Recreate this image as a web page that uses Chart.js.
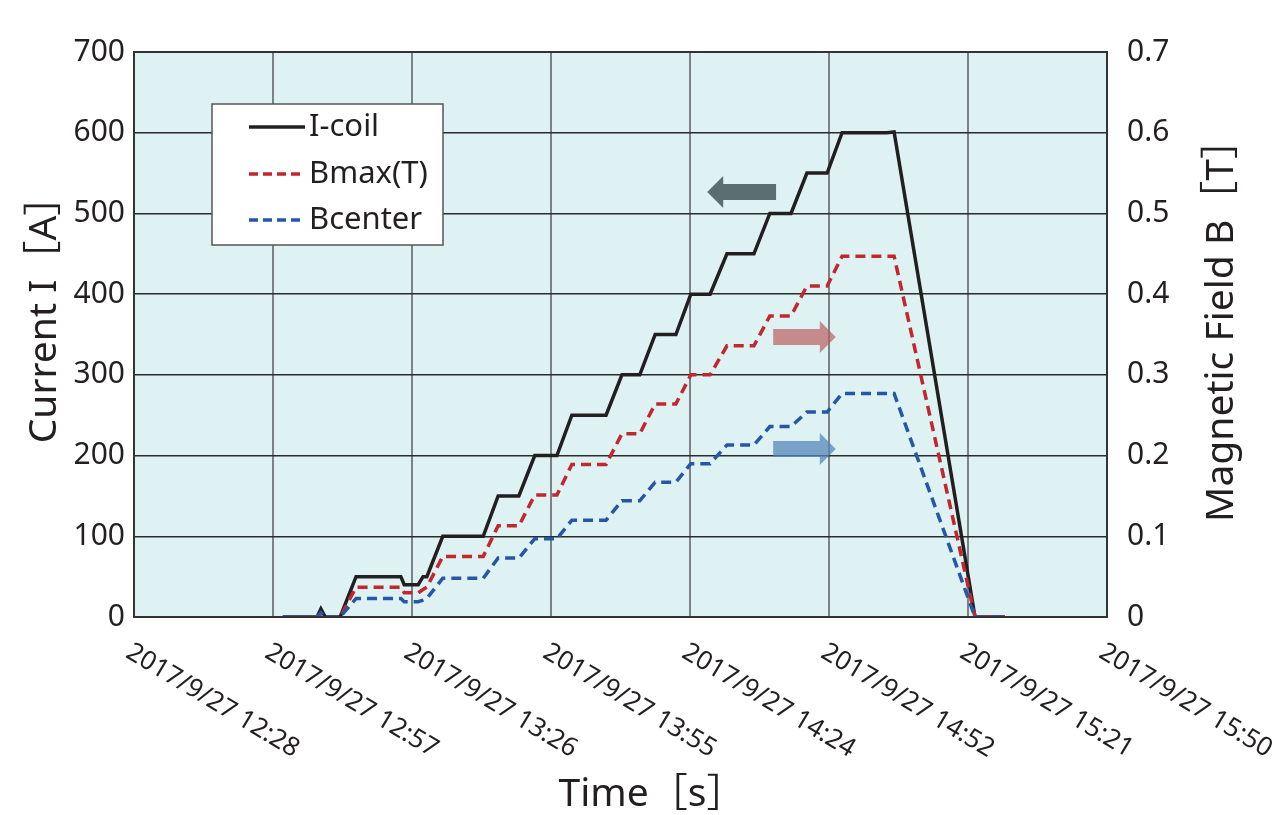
<!DOCTYPE html>
<html>
<head>
<meta charset="utf-8">
<script src="https://cdn.jsdelivr.net/npm/chart.js@4.4.1/dist/chart.umd.min.js"></script>
<style>
  html, body { margin: 0; padding: 0; background: #ffffff; }
  canvas { display: block; }
</style>
</head>
<body>
<canvas id="myChart" width="1278" height="815"></canvas>
<script>
// minutes after 2017/9/27 12:28
const timeMin = [30.9, 38.0, 38.8, 39.7, 42.8, 46.1, 55.4, 56.1, 59.0, 60.0, 60.8, 64.1,
  72.5, 75.6, 79.9, 83.2, 87.8, 90.9, 98.0, 101.3, 105.0, 108.2, 112.5, 115.6,
  119.6, 123.1, 128.7, 132.0, 136.4, 139.7, 143.9, 147.0, 156.3, 157.8, 174.6, 180.8];

const iCoil = [0, 0, 10, 0, 0, 50, 50, 40, 40, 50, 50, 100,
  100, 150, 150, 200, 200, 250, 250, 300, 300, 350, 350, 400,
  400, 450, 450, 500, 500, 550, 550, 600, 600, 601, 0, 0];

const bMax = [0, 0, 0.005, 0, 0, 0.037, 0.037, 0.030, 0.030, 0.034, 0.037, 0.075,
  0.075, 0.113, 0.113, 0.151, 0.151, 0.189, 0.189, 0.227, 0.227, 0.264, 0.264, 0.300,
  0.300, 0.336, 0.336, 0.373, 0.373, 0.410, 0.410, 0.447, 0.447, 0.447, 0, 0];

const bCenter = [0, 0, 0.005, 0, 0, 0.023, 0.023, 0.019, 0.019, 0.021, 0.023, 0.048,
  0.048, 0.073, 0.073, 0.097, 0.097, 0.120, 0.120, 0.144, 0.144, 0.167, 0.167, 0.190,
  0.190, 0.213, 0.213, 0.236, 0.236, 0.254, 0.254, 0.277, 0.277, 0.277, 0, 0];

const tickLabels = ["2017/9/27 12:28", "2017/9/27 12:57", "2017/9/27 13:26", "2017/9/27 13:55",
  "2017/9/27 14:24", "2017/9/27 14:52", "2017/9/27 15:21", "2017/9/27 15:50"];
const spanMin = 202; // 12:28 -> 15:50

// direction arrows: x from tail to tip (minutes), y on current axis
const arrows = [
  { from: 133.3, to: 119.0, y: 526.6, color: "rgba(78,96,97,0.9)" },
  { from: 132.7, to: 145.7, y: 346.9, color: "rgba(185,95,96,0.7)" },
  { from: 132.7, to: 145.7, y: 208.2, color: "rgba(86,135,186,0.75)" },
];

const FONT = '"Noto Sans", "Noto Sans CJK JP", sans-serif';
const TXT = "#231f20";

const pts = (vals) => timeMin.map((t, i) => ({ x: t, y: vals[i] }));

const data = {
  datasets: [
    {
      label: "I-coil",
      data: pts(iCoil),
      yAxisID: "y",
      borderColor: "#231f20",
      borderWidth: 3.5,
      order: 2,
    },
    {
      label: "Bmax(T)",
      data: pts(bMax),
      yAxisID: "y2",
      borderColor: "#c1272d",
      borderWidth: 3.5,
      borderDash: [10, 6],
      order: 1,
    },
    {
      label: "Bcenter",
      data: pts(bCenter),
      yAxisID: "y2",
      borderColor: "#2457a8",
      borderWidth: 3.5,
      borderDash: [10, 6],
      order: 0,
    },
  ],
};

const decorations = {
  id: "decorations",
  beforeDraw(chart) {
    const { ctx, chartArea: a } = chart;
    ctx.save();
    ctx.fillStyle = "#dff2f3";
    ctx.fillRect(a.left, a.top, a.right - a.left, a.bottom - a.top);
    ctx.restore();
  },
  afterDatasetsDraw(chart) {
    const { ctx, chartArea: a, scales } = chart;
    const xs = scales.x, ys = scales.y;

    // plot frame
    ctx.save();
    ctx.strokeStyle = "#333333";
    ctx.lineWidth = 2;
    ctx.strokeRect(a.left, a.top, a.right - a.left, a.bottom - a.top);

    // arrows
    arrows.forEach((ar) => {
      const x1 = xs.getPixelForValue(ar.from);
      const x2 = xs.getPixelForValue(ar.to);
      const y = ys.getPixelForValue(ar.y);
      const dir = Math.sign(x2 - x1);
      const head = 16, bh = 8, hh = 16;
      const xb = x2 - dir * head;
      ctx.fillStyle = ar.color;
      ctx.beginPath();
      ctx.moveTo(x1, y - bh);
      ctx.lineTo(xb, y - bh);
      ctx.lineTo(xb, y - hh);
      ctx.lineTo(x2, y);
      ctx.lineTo(xb, y + hh);
      ctx.lineTo(xb, y + bh);
      ctx.lineTo(x1, y + bh);
      ctx.closePath();
      ctx.fill();
    });

    // legend
    ctx.fillStyle = "#ffffff";
    ctx.fillRect(212, 104, 231, 141);
    ctx.strokeStyle = "#555555";
    ctx.lineWidth = 1.5;
    ctx.strokeRect(212, 104, 231, 141);
    const rows = [127, 174, 220];
    chart.data.datasets.forEach((ds, i) => {
      const y = rows[i];
      ctx.strokeStyle = ds.borderColor;
      ctx.lineWidth = 3.5;
      ctx.setLineDash(ds.borderDash ? [9, 5] : []);
      ctx.beginPath();
      ctx.moveTo(249, y);
      ctx.lineTo(305, y);
      ctx.stroke();
      ctx.setLineDash([]);
      ctx.fillStyle = TXT;
      ctx.font = "31px " + FONT;
      ctx.textAlign = "left";
      ctx.textBaseline = "middle";
      ctx.fillText(ds.label, 309, y);
    });

    // x tick labels, slanted down to the right
    ctx.font = "26px " + FONT;
    ctx.fillStyle = TXT;
    tickLabels.forEach((lab, i) => {
      const x = xs.getPixelForValue((i * spanMin) / 7);
      ctx.save();
      ctx.translate(x + 1, 639);
      ctx.rotate((31 * Math.PI) / 180);
      ctx.textAlign = "left";
      ctx.textBaseline = "top";
      ctx.fillText(lab, 0, 0);
      ctx.restore();
    });

    // axis titles
    ctx.font = "39px " + FONT;
    ctx.textAlign = "center";
    ctx.textBaseline = "middle";
    ctx.fillText("Time［s］", 652, 795);
    ctx.save();
    ctx.translate(45, 310);
    ctx.rotate(-Math.PI / 2);
    ctx.fillText("Current I［A］", 0, 0);
    ctx.restore();
    ctx.save();
    ctx.translate(1222, 321);
    ctx.rotate(-Math.PI / 2);
    ctx.fillText("Magnetic Field B［T］", 0, 0);
    ctx.restore();
    ctx.restore();
  },
};

const config = {
  type: "line",
  data: data,
  options: {
    responsive: false,
    animation: false,
    devicePixelRatio: 1,
    layout: { padding: { top: 52, left: 0, right: 0, bottom: 0 } },
    elements: { point: { radius: 0 }, line: { tension: 0 } },
    scales: {
      x: {
        type: "linear",
        min: 0,
        max: spanMin,
        afterBuildTicks: (s) => {
          s.ticks = tickLabels.map((_, i) => ({ value: (i * spanMin) / 7 }));
        },
        afterFit: (s) => { s.height = 198; },
        ticks: { display: false },
        grid: { color: "#7d8384", lineWidth: 2, drawTicks: false },
        border: { display: false },
      },
      y: {
        position: "left",
        min: 0,
        max: 700,
        afterFit: (s) => { s.width = 134; },
        ticks: { stepSize: 100, color: TXT, padding: 9, font: { family: FONT, size: 30 } },
        grid: { color: "#2b2b2b", lineWidth: 1.5, drawTicks: false },
        border: { display: false },
      },
      y2: {
        position: "right",
        min: 0,
        max: 0.7,
        afterFit: (s) => { s.width = 171; },
        ticks: {
          stepSize: 0.1,
          color: TXT,
          padding: 20,
          font: { family: FONT, size: 30 },
          callback: (v) => String(Number(v.toFixed(1))),
        },
        grid: { display: false, drawTicks: false },
        border: { display: false },
      },
    },
    plugins: {
      legend: { display: false },
      tooltip: { enabled: false },
    },
  },
  plugins: [decorations],
};

const myChart = new Chart(document.getElementById("myChart").getContext("2d"), config);
</script>
</body>
</html>
